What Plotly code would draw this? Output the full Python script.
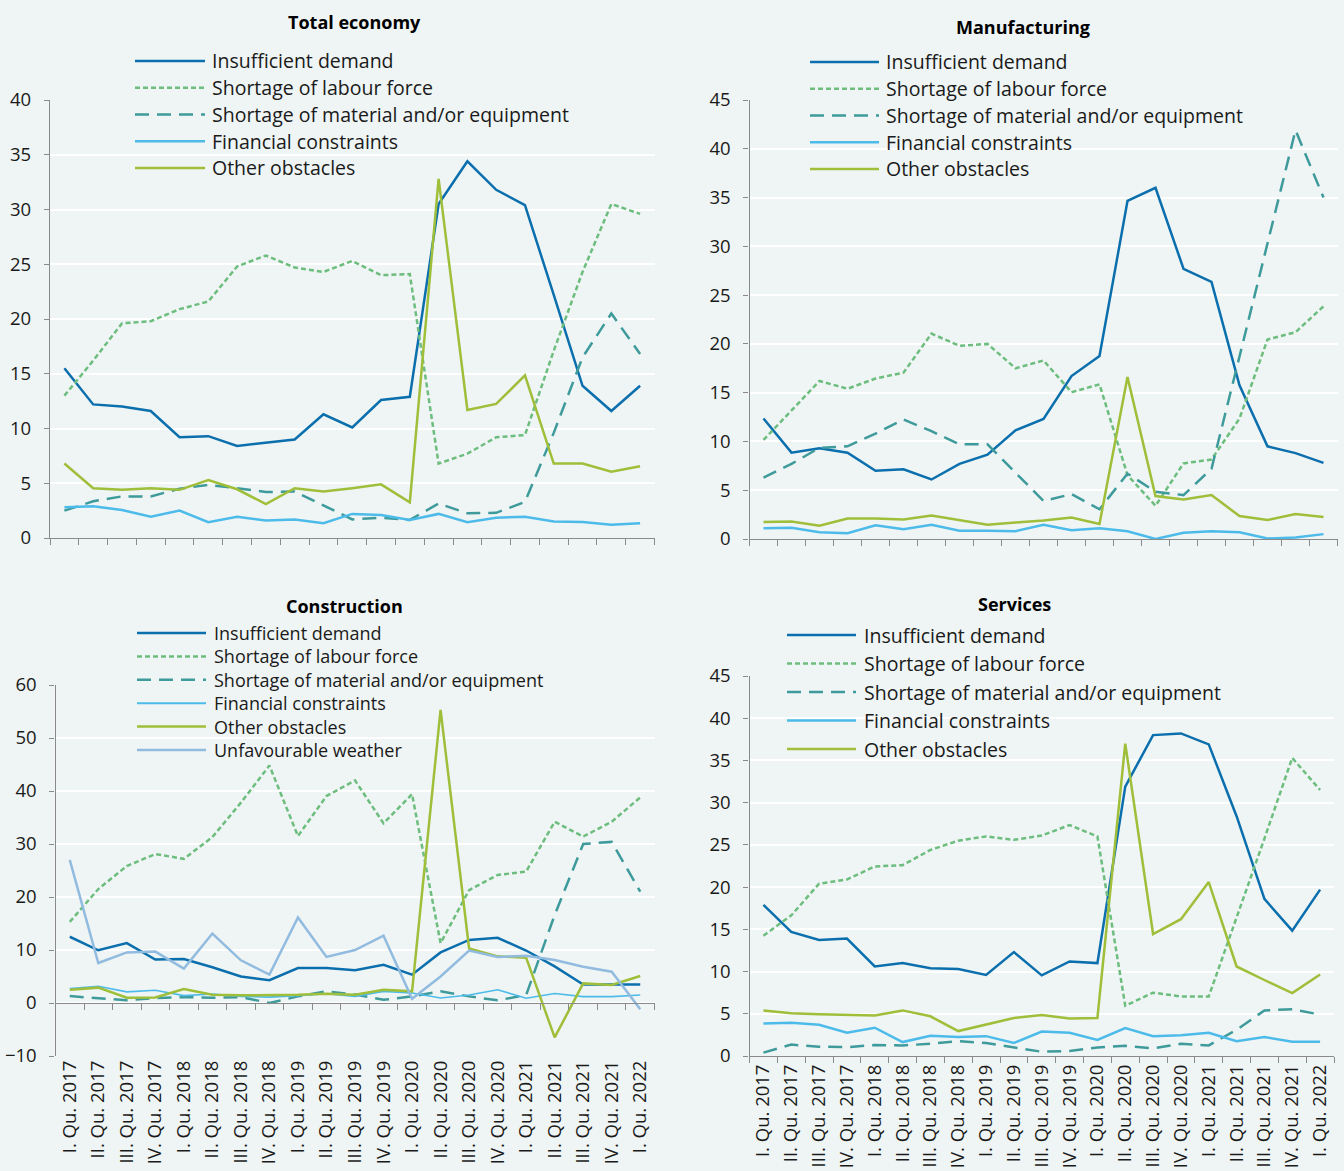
import plotly.graph_objects as go

# -------------------- DATA --------------------
quarters = []
for year in range(2017, 2023):
    for q in ["I", "II", "III", "IV"]:
        quarters.append(f"{q}. Qu. {year}")
quarters = quarters[:21]

series_names = [
    "Insufficient demand",
    "Shortage of labour force",
    "Shortage of material and/or equipment",
    "Financial constraints",
    "Other obstacles",
    "Unfavourable weather",
]

total_demand = [15.5, 12.2, 12.0, 11.6, 9.2, 9.3, 8.4, 8.7, 9.0, 11.3, 10.1, 12.6, 12.9,
                30.5, 34.4, 31.8, 30.4, 22.2, 13.9, 11.6, 13.9]
total_labour = [13.0, 16.2, 19.6, 19.8, 20.9, 21.6, 24.8, 25.8, 24.7, 24.3, 25.3, 24.0, 24.1,
                6.8, 7.7, 9.2, 9.4, 17.1, 24.3, 30.5, 29.6]
total_material = [2.5, 3.35, 3.8, 3.8, 4.5, 4.85, 4.55, 4.2, 4.25, 3.0, 1.7, 1.85, 1.65,
                  3.15, 2.25, 2.3, 3.3, 9.6, 16.5, 20.5, 16.8]
total_financial = [2.8, 2.9, 2.55, 1.95, 2.5, 1.45, 1.95, 1.6, 1.7, 1.35, 2.2, 2.1, 1.65,
                   2.2, 1.45, 1.85, 1.95, 1.5, 1.45, 1.2, 1.35]
total_other = [6.8, 4.55, 4.4, 4.55, 4.4, 5.3, 4.45, 3.1, 4.55, 4.25, 4.55, 4.9, 3.25,
               32.8, 11.7, 12.25, 14.85, 6.8, 6.8, 6.05, 6.55]

manu_demand = [12.35, 8.85, 9.3, 8.85, 7.0, 7.15, 6.1, 7.7, 8.65, 11.15, 12.3, 16.7, 18.75,
               34.65, 36.0, 27.7, 26.35, 15.75, 9.5, 8.8, 7.8]
manu_labour = [10.15, 13.2, 16.2, 15.4, 16.45, 17.05, 21.05, 19.8, 20.0, 17.5, 18.3, 15.05, 15.85,
               6.55, 3.4, 7.75, 8.15, 12.35, 20.45, 21.2, 23.85]
manu_material = [6.3, 7.7, 9.35, 9.5, 10.8, 12.25, 11.05, 9.7, 9.7, 6.8, 3.9, 4.6, 3.05,
                 6.7, 4.85, 4.5, 7.2, 18.7, 30.3, 41.9, 35.0]
manu_financial = [1.1, 1.15, 0.7, 0.6, 1.4, 1.0, 1.45, 0.85, 0.85, 0.8, 1.45, 0.9, 1.1,
                  0.8, 0.0, 0.65, 0.8, 0.7, 0.05, 0.15, 0.5]
manu_other = [1.75, 1.8, 1.35, 2.1, 2.1, 2.0, 2.4, 1.95, 1.45, 1.7, 1.9, 2.2, 1.55,
              16.6, 4.4, 4.05, 4.5, 2.35, 1.95, 2.55, 2.25]

cons_demand = [12.5, 9.95, 11.3, 8.2, 8.3, 6.75, 5.0, 4.3, 6.6, 6.6, 6.2, 7.2, 5.35,
               9.55, 11.9, 12.3, 9.9, 6.9, 3.5, 3.5, 3.5]
cons_labour = [15.3, 21.5, 25.85, 28.1, 27.2, 31.3, 37.8, 44.8, 31.5, 39.05, 42.0, 33.9, 39.4,
               11.3, 21.3, 24.15, 24.8, 34.2, 31.4, 34.2, 38.8]
cons_material = [1.3, 0.95, 0.5, 0.95, 1.1, 1.0, 1.1, 0.0, 1.25, 2.2, 1.6, 0.6, 1.25,
                 2.2, 1.25, 0.5, 1.5, 16.6, 30.0, 30.4, 21.0]
cons_financial = [2.75, 3.15, 2.1, 2.4, 1.4, 1.7, 1.25, 1.1, 1.4, 1.75, 1.25, 2.2, 1.9,
                  0.95, 1.5, 2.5, 0.9, 1.8, 1.2, 1.2, 1.5]
cons_other = [2.5, 2.9, 1.0, 1.05, 2.65, 1.55, 1.45, 1.45, 1.55, 1.75, 1.55, 2.5, 2.2,
              55.3, 10.3, 8.8, 8.55, -6.5, 3.7, 3.4, 5.1]
cons_weather = [27.0, 7.55, 9.55, 9.7, 6.5, 13.1, 8.05, 5.35, 16.15, 8.7, 10.0, 12.7, 0.8,
                5.0, 9.9, 8.7, 8.9, 8.1, 6.85, 5.9, -1.2]

serv_demand = [17.9, 14.7, 13.75, 13.9, 10.6, 11.0, 10.4, 10.3, 9.6, 12.3, 9.55, 11.2, 11.0,
               31.9, 38.0, 38.2, 36.9, 28.4, 18.6, 14.85, 19.7]
serv_labour = [14.25, 16.65, 20.4, 20.9, 22.45, 22.6, 24.4, 25.5, 26.0, 25.6, 26.1, 27.35, 26.0,
               5.95, 7.5, 7.05, 7.05, 16.3, 25.75, 35.3, 31.5]
serv_material = [0.4, 1.35, 1.1, 1.05, 1.3, 1.25, 1.45, 1.75, 1.55, 1.0, 0.5, 0.6, 1.0,
                 1.2, 0.9, 1.45, 1.25, 3.1, 5.4, 5.55, 4.9]
serv_financial = [3.85, 3.95, 3.7, 2.75, 3.35, 1.65, 2.4, 2.25, 2.35, 1.55, 2.9, 2.75, 1.9,
                  3.3, 2.35, 2.45, 2.75, 1.75, 2.25, 1.7, 1.7]
serv_other = [5.4, 5.05, 4.95, 4.85, 4.8, 5.4, 4.7, 2.95, 3.75, 4.5, 4.85, 4.45, 4.5,
              37.0, 14.45, 16.2, 20.6, 10.6, 9.0, 7.45, 9.65]

# -------------------- STYLE --------------------
W, H = 1344, 1171
BG = "#eff5f4"
AXIS = "#8a8a8a"
FONT = "Open Sans"
TEXT = "#1a1a1a"

styles = {
    "Insufficient demand": dict(color="#0b6fae", width=2.5, dash="solid"),
    "Shortage of labour force": dict(color="#6dbd7e", width=2.5, dash="5px,3px"),
    "Shortage of material and/or equipment": dict(color="#3e9a9b", width=2.5, dash="14px,8px"),
    "Financial constraints": dict(color="#4dbbea", width=2.5, dash="solid"),
    "Other obstacles": dict(color="#9fbe3a", width=2.5, dash="solid"),
    "Unfavourable weather": dict(color="#92bbe0", width=2.5, dash="solid"),
}


def px_x(x):
    return x / W


def px_y(y):
    return 1 - y / H


# legend = (line start, line end, text x, first row y, row step, font size)
panels = [
    dict(title="Total economy", title_xy=(354, 22),
         data=[total_demand, total_labour, total_material, total_financial, total_other],
         x=(50, 654.5), y=(538, 100), yrange=(0, 40), dtick=5,
         legend=(135, 205, 210, 61, 26.75, 19.5), labels=False),
    dict(title="Manufacturing", title_xy=(1023, 27),
         data=[manu_demand, manu_labour, manu_material, manu_financial, manu_other],
         x=(749.5, 1337.5), y=(539, 100), yrange=(0, 45), dtick=5,
         legend=(810, 879, 884, 62, 26.75, 19.5), labels=False),
    dict(title="Construction", title_xy=(345, 606),
         data=[cons_demand, cons_labour, cons_material, cons_financial, cons_other, cons_weather],
         x=(55.5, 654.5), y=(1056, 685), yrange=(-10, 60), dtick=10,
         legend=(137, 206, 212, 633, 23.4, 18), labels=True),
    dict(title="Services", title_xy=(1014, 604),
         data=[serv_demand, serv_labour, serv_material, serv_financial, serv_other],
         x=(749.5, 1334), y=(1056, 676), yrange=(0, 45), dtick=5,
         legend=(787, 856, 862, 635, 28.5, 19.5), labels=True),
]

fig = go.Figure()
shapes = []
annotations = []
n = len(quarters)

for i, p in enumerate(panels):
    k = "" if i == 0 else str(i + 1)
    xa, ya = "x" + k, "y" + k
    lx0, lx1, tx, ly0, step, fsize = p["legend"]
    names = series_names[:len(p["data"])]
    for j, values in enumerate(p["data"]):
        name = names[j]
        st = dict(styles[name])
        if i == 2 and name == "Financial constraints":
            st["width"] = 1.6
        fig.add_trace(go.Scatter(
            x=quarters, y=values, name=name, mode="lines",
            line=st, xaxis=xa, yaxis=ya, showlegend=False,
        ))
        # legend sample line
        yy = px_y(ly0 + j * step)
        shapes.append(dict(type="line", xref="paper", yref="paper",
                           x0=px_x(lx0), x1=px_x(lx1), y0=yy, y1=yy,
                           line=dict(color=st["color"], width=2.5 if st["width"] > 2 else 2,
                                     dash=st["dash"])))

    # legend texts: one block per panel when rows are tight, else one per row
    if fsize * 1.3 >= step - 0.5:
        mid = ly0 + step * (len(names) - 1) / 2
        annotations.append(dict(text="<br>".join(names), xref="paper", yref="paper",
                                x=px_x(tx), y=px_y(mid), xanchor="left", yanchor="middle",
                                align="left", showarrow=False,
                                font=dict(family=FONT, size=fsize, color=TEXT)))
    else:
        for j, name in enumerate(names):
            annotations.append(dict(text=name, xref="paper", yref="paper",
                                    x=px_x(tx), y=px_y(ly0 + j * step),
                                    xanchor="left", yanchor="middle", showarrow=False,
                                    font=dict(family=FONT, size=fsize, color=TEXT)))

    annotations.append(dict(text="<b>" + p["title"] + "</b>", xref="paper", yref="paper",
                            x=px_x(p["title_xy"][0]), y=px_y(p["title_xy"][1]),
                            xanchor="center", yanchor="middle", showarrow=False,
                            font=dict(family=FONT, size=18, color="#000000")))

    xdom = [px_x(p["x"][0]), px_x(p["x"][1])]
    ydom = [px_y(p["y"][0]), px_y(p["y"][1])]
    zero_on_bottom = p["yrange"][0] == 0

    fig.layout["xaxis" + k] = dict(
        domain=xdom, anchor=ya, type="category",
        categoryorder="array", categoryarray=quarters,
        range=[-0.5, n - 0.5],
        showline=zero_on_bottom, linecolor=AXIS, linewidth=1.3,
        ticks="outside" if zero_on_bottom else "", tickson="boundaries",
        ticklen=6, tickcolor=AXIS, tickwidth=1.3,
        showgrid=False, zeroline=False, automargin=False,
        showticklabels=p["labels"], tickangle=-90,
        tickfont=dict(family=FONT, size=18.5, color=TEXT),
    )
    fig.layout["yaxis" + k] = dict(
        domain=ydom, anchor=xa, range=list(p["yrange"]), dtick=p["dtick"],
        showline=True, linecolor=AXIS, linewidth=1.3,
        ticks="outside", ticklen=5, tickcolor=AXIS, tickwidth=1.3,
        ticklabelstandoff=9,
        showgrid=True, gridcolor="#ffffff", gridwidth=2,
        zeroline=False, automargin=False,
        tickfont=dict(family=FONT, size=18.5, color=TEXT),
    )

    if not zero_on_bottom:
        # x axis line drawn through the zero level, labels stay at the bottom
        y0, y1 = p["yrange"]
        pos = ydom[0] + (0 - y0) / (y1 - y0) * (ydom[1] - ydom[0])
        fig.layout["xaxis5"] = dict(
            overlaying=xa, anchor="free", position=pos, domain=xdom,
            range=[-0.5, n - 0.5], tickmode="array",
            tickvals=[b - 0.5 for b in range(n + 1)],
            showticklabels=False, showline=True, linecolor=AXIS, linewidth=1.3,
            ticks="outside", ticklen=6, tickcolor=AXIS, tickwidth=1.3,
            showgrid=False, zeroline=False, automargin=False,
        )
        fig.add_trace(go.Scatter(x=[], y=[], xaxis="x5", yaxis=ya, showlegend=False,
                                 hoverinfo="skip"))

fig.update_layout(
    width=W, height=H,
    margin=dict(l=0, r=0, t=0, b=0),
    paper_bgcolor=BG, plot_bgcolor=BG,
    font=dict(family=FONT, color=TEXT),
    shapes=shapes, annotations=annotations,
    showlegend=False,
)

fig.write_html(
    "out.html",
    config={"displayModeBar": False},
    post_script=(
        "document.body.style.margin='0px';"
        "document.body.style.background='" + BG + "';"
        "document.documentElement.style.overflow='hidden';"
    ),
)
